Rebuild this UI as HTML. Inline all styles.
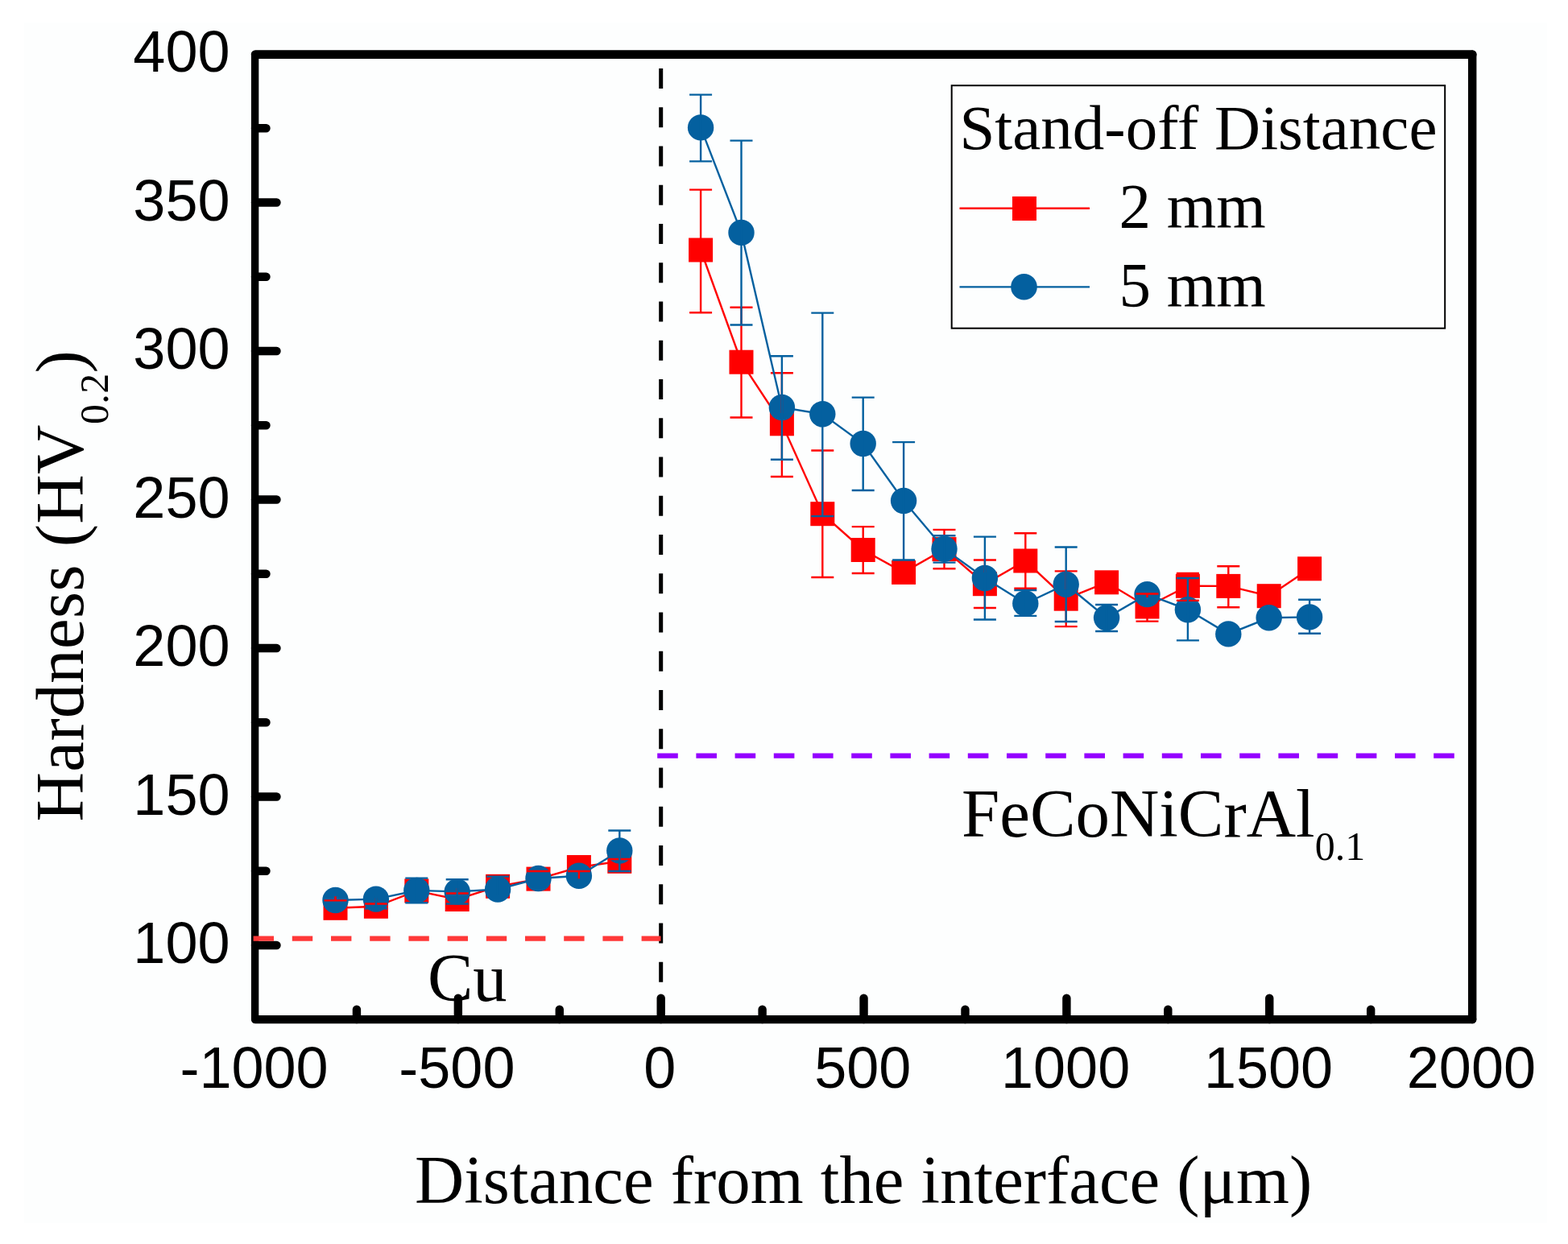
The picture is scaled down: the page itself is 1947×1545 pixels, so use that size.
<!DOCTYPE html>
<html lang="en"><head><meta charset="utf-8"><title>Hardness vs distance from the interface</title>
<style>html,body{margin:0;padding:0;background:#fff;overflow:hidden}svg{display:block}.sans{font-family:"Liberation Sans",Arial,sans-serif}.serif{font-family:"Liberation Serif","Times New Roman",serif}</style></head><body>
<svg width="1947" height="1545" viewBox="0 0 1947 1545">
<rect width="1947" height="1545" fill="#ffffff"/>
<rect x="30" y="28" width="1891" height="1491" fill="#fdfefe"/>
<line x1="820.7" y1="85" x2="820.7" y2="1266.1" stroke="#000" stroke-width="5" stroke-dasharray="25 23.25"/>
<text class="serif" x="531" y="1243" font-size="84.5" fill="#000">Cu</text>
<text class="serif" x="1194" y="1039.3" font-size="84.9" fill="#000">FeCoNiCrAl<tspan font-size="50" dy="29">0.1</tspan></text>
<polyline points="416.5,1127.8 466.9,1125.8 517.3,1106.4 567.7,1117 618.1,1100.8 668.5,1091.6 718.9,1077 769.3,1069.8" fill="none" stroke="#ff0000" stroke-width="2.4"/>
<polyline points="870.1,310.5 920.5,449.7 970.9,526.3 1021.3,638.2 1071.7,683 1122.1,710.9 1172.5,682.1 1222.9,725.2 1273.3,696.5 1323.7,743.7 1374.1,723.3 1424.5,753.5 1474.9,727.8 1525.3,727.9 1575.7,740.2 1626.1,706.3" fill="none" stroke="#ff0000" stroke-width="2.4"/>
<path d="M870.1 235.6V388.3M856.1 235.6H884.1M856.1 388.3H884.1M920.5 381.7V518.5M906.5 381.7H934.5M906.5 518.5H934.5M970.9 463.2V592M956.9 463.2H984.9M956.9 592H984.9M1021.3 559.5V717M1007.3 559.5H1035.3M1007.3 717H1035.3M1071.7 654.1V712M1057.7 654.1H1085.7M1057.7 712H1085.7M1172.5 657.9V706.3M1158.5 657.9H1186.5M1158.5 706.3H1186.5M1222.9 695.5V755M1208.9 695.5H1236.9M1208.9 755H1236.9M1273.3 662.2V730.8M1259.3 662.2H1287.3M1259.3 730.8H1287.3M1323.7 709.4V778.1M1309.7 709.4H1337.7M1309.7 778.1H1337.7M1424.5 737V771.6M1410.5 737H1438.5M1410.5 771.6H1438.5M1474.9 712V745.9M1460.9 712H1488.9M1460.9 745.9H1488.9M1525.3 703.2V754.3M1511.3 703.2H1539.3M1511.3 754.3H1539.3" fill="none" stroke="#ff0000" stroke-width="2.4"/>
<rect x="401.5" y="1112.8" width="30" height="30" fill="#ff0000"/>
<rect x="451.9" y="1110.8" width="30" height="30" fill="#ff0000"/>
<rect x="502.3" y="1091.4" width="30" height="30" fill="#ff0000"/>
<rect x="552.7" y="1102" width="30" height="30" fill="#ff0000"/>
<rect x="603.1" y="1085.8" width="30" height="30" fill="#ff0000"/>
<rect x="653.5" y="1076.6" width="30" height="30" fill="#ff0000"/>
<rect x="703.9" y="1062" width="30" height="30" fill="#ff0000"/>
<rect x="754.3" y="1054.8" width="30" height="30" fill="#ff0000"/>
<rect x="855.1" y="295.5" width="30" height="30" fill="#ff0000"/>
<rect x="905.5" y="434.7" width="30" height="30" fill="#ff0000"/>
<rect x="955.9" y="511.3" width="30" height="30" fill="#ff0000"/>
<rect x="1006.3" y="623.2" width="30" height="30" fill="#ff0000"/>
<rect x="1056.7" y="668" width="30" height="30" fill="#ff0000"/>
<rect x="1107.1" y="695.9" width="30" height="30" fill="#ff0000"/>
<rect x="1157.5" y="667.1" width="30" height="30" fill="#ff0000"/>
<rect x="1207.9" y="710.2" width="30" height="30" fill="#ff0000"/>
<rect x="1258.3" y="681.5" width="30" height="30" fill="#ff0000"/>
<rect x="1308.7" y="728.7" width="30" height="30" fill="#ff0000"/>
<rect x="1359.1" y="708.3" width="30" height="30" fill="#ff0000"/>
<rect x="1409.5" y="738.5" width="30" height="30" fill="#ff0000"/>
<rect x="1459.9" y="712.8" width="30" height="30" fill="#ff0000"/>
<rect x="1510.3" y="712.9" width="30" height="30" fill="#ff0000"/>
<rect x="1560.7" y="725.2" width="30" height="30" fill="#ff0000"/>
<rect x="1611.1" y="691.3" width="30" height="30" fill="#ff0000"/>
<polyline points="416.5,1118 466.9,1116.6 517.3,1105.9 567.7,1107.4 618.1,1104.5 668.5,1091 718.9,1087.8 769.3,1056.5" fill="none" stroke="#04609f" stroke-width="2.4"/>
<polyline points="870.1,158.4 920.5,288.9 970.9,506 1021.3,514.3 1071.7,551 1122.1,622 1172.5,681.7 1222.9,718 1273.3,749.5 1323.7,725.7 1374.1,767.3 1424.5,738.1 1474.9,757.2 1525.3,787.4 1575.7,767.3 1626.1,766.4" fill="none" stroke="#04609f" stroke-width="2.4"/>
<circle cx="416.5" cy="1118" r="16.2" fill="#04609f"/>
<circle cx="466.9" cy="1116.6" r="16.2" fill="#04609f"/>
<circle cx="517.3" cy="1105.9" r="16.2" fill="#04609f"/>
<circle cx="567.7" cy="1107.4" r="16.2" fill="#04609f"/>
<circle cx="618.1" cy="1104.5" r="16.2" fill="#04609f"/>
<circle cx="668.5" cy="1091" r="16.2" fill="#04609f"/>
<circle cx="718.9" cy="1087.8" r="16.2" fill="#04609f"/>
<circle cx="769.3" cy="1056.5" r="16.2" fill="#04609f"/>
<circle cx="870.1" cy="158.4" r="16.2" fill="#04609f"/>
<circle cx="920.5" cy="288.9" r="16.2" fill="#04609f"/>
<circle cx="970.9" cy="506" r="16.2" fill="#04609f"/>
<circle cx="1021.3" cy="514.3" r="16.2" fill="#04609f"/>
<circle cx="1071.7" cy="551" r="16.2" fill="#04609f"/>
<circle cx="1122.1" cy="622" r="16.2" fill="#04609f"/>
<circle cx="1172.5" cy="681.7" r="16.2" fill="#04609f"/>
<circle cx="1222.9" cy="718" r="16.2" fill="#04609f"/>
<circle cx="1273.3" cy="749.5" r="16.2" fill="#04609f"/>
<circle cx="1323.7" cy="725.7" r="16.2" fill="#04609f"/>
<circle cx="1374.1" cy="767.3" r="16.2" fill="#04609f"/>
<circle cx="1424.5" cy="738.1" r="16.2" fill="#04609f"/>
<circle cx="1474.9" cy="757.2" r="16.2" fill="#04609f"/>
<circle cx="1525.3" cy="787.4" r="16.2" fill="#04609f"/>
<circle cx="1575.7" cy="767.3" r="16.2" fill="#04609f"/>
<circle cx="1626.1" cy="766.4" r="16.2" fill="#04609f"/>
<path d="M402.5 1118.4H430.5M416.5 1113.3V1118.4M452.9 1122.5H480.9M466.9 1115.5V1122.5M553.7 1109.5H581.7M567.7 1103V1109.5M654.5 1082H682.5M704.9 1082H732.9M718.9 1082V1091.2M755.3 1067H783.3M769.3 1055.6V1067M970.9 490.5V513M1222.9 702V711M1323.7 710V732M1410.5 737.5H1438.5M1424.5 737.5V742M1460.9 745.9H1488.9M1474.9 742.8V745.9" fill="none" stroke="#ff0000" stroke-width="2.4"/>
<path d="M466.9 1112V1128.4M452.9 1112H480.9M452.9 1128.4H480.9M517.3 1090.6V1121.2M503.3 1090.6H531.3M503.3 1121.2H531.3M567.7 1092.3V1122.5M553.7 1092.3H581.7M553.7 1122.5H581.7M618.1 1088.6V1112M604.1 1088.6H632.1M604.1 1112H632.1M769.3 1031.5V1082M755.3 1031.5H783.3M755.3 1082H783.3M870.1 117.6V200.4M856.1 117.6H884.1M856.1 200.4H884.1M920.5 174.6V403.5M906.5 174.6H934.5M906.5 403.5H934.5M970.9 442.2V570.7M956.9 442.2H984.9M956.9 570.7H984.9M1021.3 388.6V641.1M1007.3 388.6H1035.3M1007.3 641.1H1035.3M1071.7 493.6V609M1057.7 493.6H1085.7M1057.7 609H1085.7M1122.1 549.1V695.5M1108.1 549.1H1136.1M1108.1 695.5H1136.1M1172.5 665.3V698.6M1158.5 665.3H1186.5M1158.5 698.6H1186.5M1222.9 666.6V769.5M1208.9 666.6H1236.9M1208.9 769.5H1236.9M1273.3 733V764.9M1259.3 733H1287.3M1259.3 764.9H1287.3M1323.7 679.5V772M1309.7 679.5H1337.7M1309.7 772H1337.7M1374.1 751V784M1360.1 751H1388.1M1360.1 784H1388.1M1474.9 718V795.4M1460.9 718H1488.9M1460.9 795.4H1488.9M1626.1 744.8V786.7M1612.1 744.8H1640.1M1612.1 786.7H1640.1" fill="none" stroke="#04609f" stroke-width="2.4"/>
<g stroke="#000" stroke-linecap="round" fill="none"><line x1="316.6" y1="67.7" x2="316.6" y2="1266.1" stroke-width="9.4"/><line x1="1828.2" y1="67.7" x2="1828.2" y2="1266.1" stroke-width="10.4"/><line x1="317.2" y1="67.6" x2="1828.2" y2="67.6" stroke-width="10.8"/><line x1="317.2" y1="1266.1" x2="1828.2" y2="1266.1" stroke-width="10.4"/></g>
<path d="M317 1174.05H343.5M317 989.55H343.5M317 805.05H343.5M317 620.55H343.5M317 436.05H343.5M317 251.55H343.5M317 1081.8H330.5M317 897.3H330.5M317 712.8H330.5M317 528.3H330.5M317 343.8H330.5M317 159.3H330.5M568.85 1266.1V1239.6M820.7 1266.1V1239.6M1072.55 1266.1V1239.6M1324.4 1266.1V1239.6M1576.25 1266.1V1239.6M442.93 1266.1V1253.6M694.78 1266.1V1253.6M946.62 1266.1V1253.6M1198.48 1266.1V1253.6M1450.33 1266.1V1253.6M1702.18 1266.1V1253.6" fill="none" stroke="#000" stroke-width="10.4" stroke-linecap="round"/>
<line x1="816.2" y1="938.6" x2="1806" y2="938.6" stroke="#9400ff" stroke-width="6.2" stroke-dasharray="25.6 22.6"/>
<line x1="314.6" y1="1165.6" x2="820.5" y2="1165.6" stroke="#ff3838" stroke-width="6.2" stroke-dasharray="25.4 22.8"/>
<g class="sans" font-size="72" fill="#000">
<text x="285.5" y="1196.35" text-anchor="end">100</text>
<text x="285.5" y="1011.85" text-anchor="end">150</text>
<text x="285.5" y="827.35" text-anchor="end">200</text>
<text x="285.5" y="642.85" text-anchor="end">250</text>
<text x="285.5" y="458.35" text-anchor="end">300</text>
<text x="285.5" y="273.85" text-anchor="end">350</text>
<text x="285.5" y="89.35" text-anchor="end">400</text>
<text x="315.5" y="1351.3" text-anchor="middle">-1000</text>
<text x="567.4" y="1351.3" text-anchor="middle">-500</text>
<text x="819.3" y="1351.3" text-anchor="middle">0</text>
<text x="1071.2" y="1351.3" text-anchor="middle">500</text>
<text x="1323.1" y="1351.3" text-anchor="middle">1000</text>
<text x="1575" y="1351.3" text-anchor="middle">1500</text>
<text x="1826.9" y="1351.3" text-anchor="middle">2000</text>
</g>
<text class="serif" x="1072.1" y="1494" font-size="84.8" text-anchor="middle" fill="#000">Distance from the interface (μm)</text>
<text class="serif" transform="translate(103 727.6) rotate(-90)" font-size="85" letter-spacing="0.4" text-anchor="middle" fill="#000">Hardness (HV<tspan font-size="50" dy="31">0.2</tspan><tspan dy="-31">)</tspan></text>
<rect x="1181.7" y="106.2" width="612.5" height="301.5" fill="none" stroke="#000" stroke-width="2"/>
<text class="serif" x="1191.4" y="185" font-size="79" fill="#000">Stand-off Distance</text>
<line x1="1191.5" y1="258.8" x2="1353" y2="258.8" stroke="#ff0000" stroke-width="2.4"/>
<rect x="1257" y="244" width="30" height="30" fill="#ff0000"/>
<text class="serif" x="1389.5" y="282" font-size="79" fill="#000">2 mm</text>
<line x1="1191.5" y1="356.4" x2="1353" y2="356.4" stroke="#04609f" stroke-width="2.4"/>
<circle cx="1271.5" cy="356.3" r="16.3" fill="#04609f"/>
<text class="serif" x="1389.5" y="380" font-size="79" fill="#000">5 mm</text>
</svg></body></html>
